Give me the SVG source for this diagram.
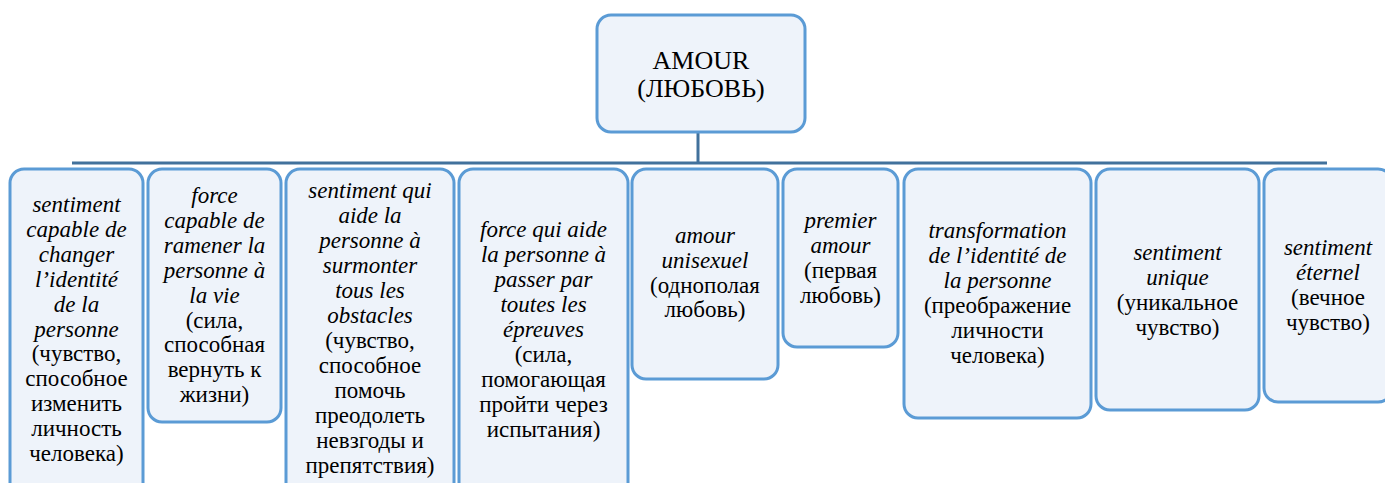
<svg xmlns="http://www.w3.org/2000/svg" width="1385" height="483" viewBox="0 0 1385 483">
<style>
.box{fill:#EEF3FA;stroke:#5B9BD5;stroke-width:3}
.con{stroke:#41719C;stroke-width:3;fill:none}
.i{font-style:italic}
</style>
<rect width="1385" height="483" fill="#fff"/>
<g id="connectors">
<line class="con" x1="698" y1="132" x2="698" y2="163"/>
<line class="con" x1="72" y1="163" x2="1327" y2="163"/>
</g>
<g id="root">
<rect class="box" x="597" y="15" width="208" height="117" rx="14"/>
<text style="font-family:'Liberation Serif',serif;font-size:26px" text-anchor="middle" x="701" y="69">AMOUR</text>
<text style="font-family:'Liberation Serif',serif;font-size:26px" text-anchor="middle" x="701" y="97">(ЛЮБОВЬ)</text>
</g>
<g id="n1">
<rect class="box" x="10" y="169" width="133" height="330" rx="14"/>
<text style="font-family:'Liberation Serif',serif;font-size:23px" text-anchor="middle" x="76.5" y="212"><tspan class="i">sentiment</tspan><tspan class="i" x="76.5" dy="24.9">capable de</tspan><tspan class="i" x="76.5" dy="24.9">changer</tspan><tspan class="i" x="76.5" dy="24.9">l’identité</tspan><tspan class="i" x="76.5" dy="24.9">de la</tspan><tspan class="i" x="76.5" dy="24.9">personne</tspan><tspan x="76.5" dy="24.9">(чувство,</tspan><tspan x="76.5" dy="24.9">способное</tspan><tspan x="76.5" dy="24.9">изменить</tspan><tspan x="76.5" dy="24.9">личность</tspan><tspan x="76.5" dy="24.9">человека)</tspan></text>
</g>
<g id="n2">
<rect class="box" x="148" y="169" width="133" height="253" rx="14"/>
<text style="font-family:'Liberation Serif',serif;font-size:23px" text-anchor="middle" x="214.5" y="203"><tspan class="i">force</tspan><tspan class="i" x="214.5" dy="24.9">capable de</tspan><tspan class="i" x="214.5" dy="24.9">ramener la</tspan><tspan class="i" x="214.5" dy="24.9">personne à</tspan><tspan class="i" x="214.5" dy="24.9">la vie</tspan><tspan x="214.5" dy="24.9">(сила,</tspan><tspan x="214.5" dy="24.9">способная</tspan><tspan x="214.5" dy="24.9">вернуть к</tspan><tspan x="214.5" dy="24.9">жизни)</tspan></text>
</g>
<g id="n3">
<rect class="box" x="286" y="169" width="168" height="330" rx="14"/>
<text style="font-family:'Liberation Serif',serif;font-size:23px" text-anchor="middle" x="370" y="198"><tspan class="i">sentiment qui</tspan><tspan class="i" x="370" dy="25">aide la</tspan><tspan class="i" x="370" dy="25">personne à</tspan><tspan class="i" x="370" dy="25">surmonter</tspan><tspan class="i" x="370" dy="25">tous les</tspan><tspan class="i" x="370" dy="25">obstacles</tspan><tspan x="370" dy="25">(чувство,</tspan><tspan x="370" dy="25">способное</tspan><tspan x="370" dy="25">помочь</tspan><tspan x="370" dy="25">преодолеть</tspan><tspan x="370" dy="25">невзгоды и</tspan><tspan x="370" dy="25">препятствия)</tspan></text>
</g>
<g id="n4">
<rect class="box" x="459" y="169" width="169" height="330" rx="14"/>
<text style="font-family:'Liberation Serif',serif;font-size:23px" text-anchor="middle" x="543.5" y="237"><tspan class="i">force qui aide</tspan><tspan class="i" x="543.5" dy="25">la personne à</tspan><tspan class="i" x="543.5" dy="25">passer par</tspan><tspan class="i" x="543.5" dy="25">toutes les</tspan><tspan class="i" x="543.5" dy="25">épreuves</tspan><tspan x="543.5" dy="25">(сила,</tspan><tspan x="543.5" dy="25">помогающая</tspan><tspan x="543.5" dy="25">пройти через</tspan><tspan x="543.5" dy="25">испытания)</tspan></text>
</g>
<g id="n5">
<rect class="box" x="632" y="169" width="146" height="210" rx="14"/>
<text style="font-family:'Liberation Serif',serif;font-size:23px" text-anchor="middle" x="705" y="243"><tspan class="i">amour</tspan><tspan class="i" x="705" dy="24.8">unisexuel</tspan><tspan x="705" dy="24.8">(однополая</tspan><tspan x="705" dy="24.8">любовь)</tspan></text>
</g>
<g id="n6">
<rect class="box" x="783" y="169" width="115" height="178" rx="14"/>
<text style="font-family:'Liberation Serif',serif;font-size:23px" text-anchor="middle" x="840.5" y="228"><tspan class="i">premier</tspan><tspan class="i" x="840.5" dy="25">amour</tspan><tspan x="840.5" dy="25">(первая</tspan><tspan x="840.5" dy="25">любовь)</tspan></text>
</g>
<g id="n7">
<rect class="box" x="904" y="169" width="187" height="249" rx="14"/>
<text style="font-family:'Liberation Serif',serif;font-size:23px" text-anchor="middle" x="997.5" y="238"><tspan class="i">transformation</tspan><tspan class="i" x="997.5" dy="25">de l’identité de</tspan><tspan class="i" x="997.5" dy="25">la personne</tspan><tspan x="997.5" dy="25">(преображение</tspan><tspan x="997.5" dy="25">личности</tspan><tspan x="997.5" dy="25">человека)</tspan></text>
</g>
<g id="n8">
<rect class="box" x="1096" y="169" width="163" height="241" rx="14"/>
<text style="font-family:'Liberation Serif',serif;font-size:23px" text-anchor="middle" x="1177.5" y="260"><tspan class="i">sentiment</tspan><tspan class="i" x="1177.5" dy="25">unique</tspan><tspan x="1177.5" dy="25">(уникальное</tspan><tspan x="1177.5" dy="25">чувство)</tspan></text>
</g>
<g id="n9">
<rect class="box" x="1264" y="169" width="128" height="233" rx="14"/>
<text style="font-family:'Liberation Serif',serif;font-size:23px" text-anchor="middle" x="1328" y="255"><tspan class="i">sentiment</tspan><tspan class="i" x="1328" dy="25">éternel</tspan><tspan x="1328" dy="25">(вечное</tspan><tspan x="1328" dy="25">чувство)</tspan></text>
</g>
</svg>
